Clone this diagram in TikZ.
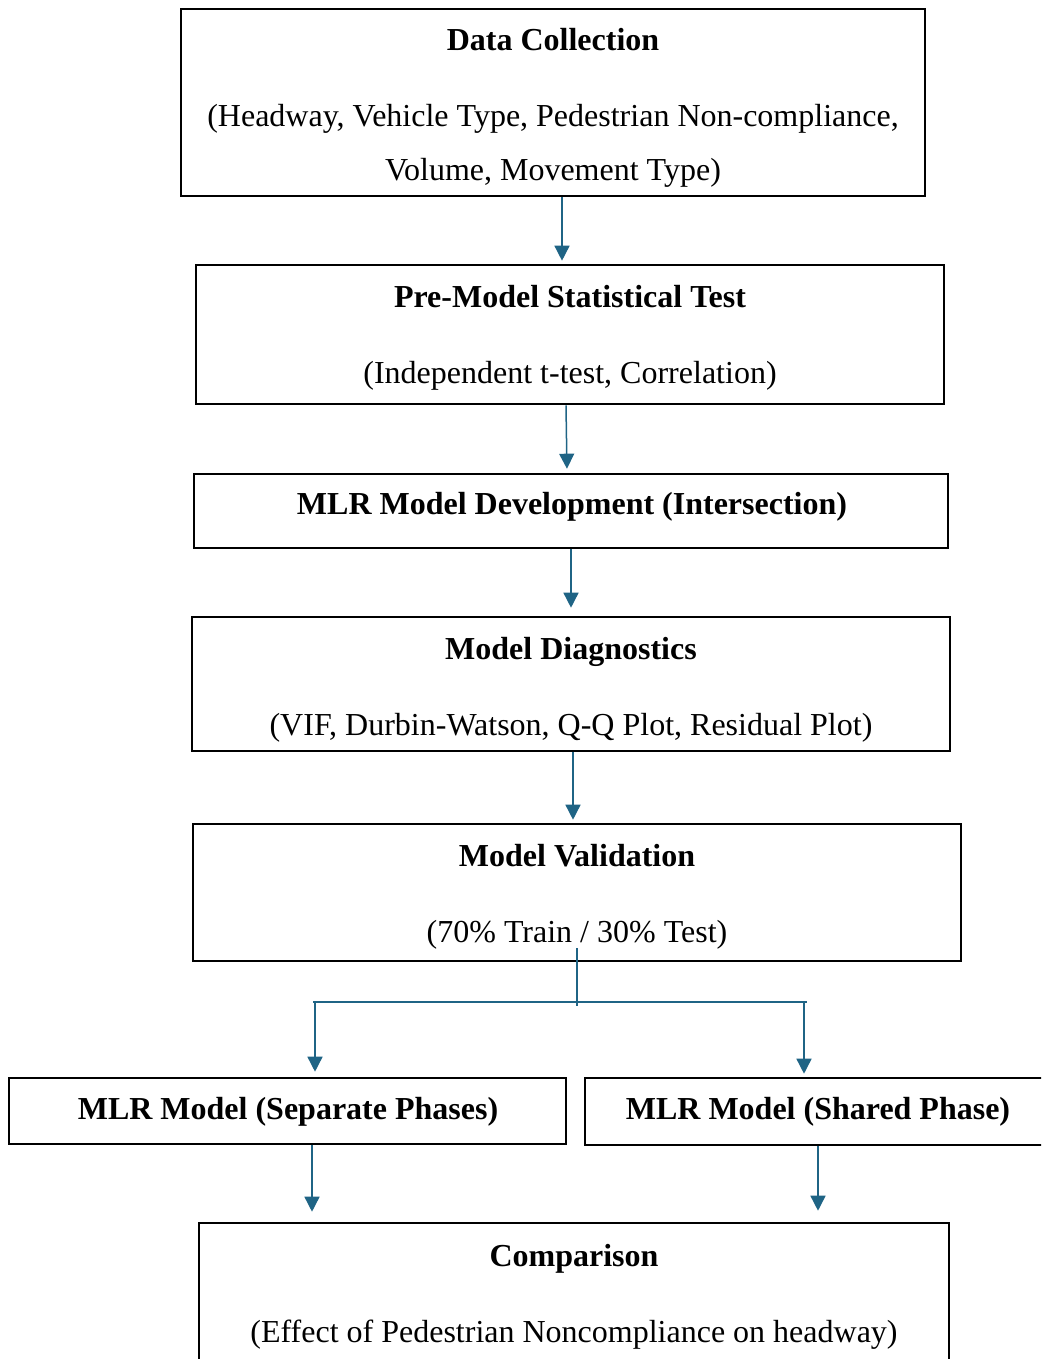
\documentclass[tikz,border=0pt]{standalone}
\usepackage{fontspec}
\setmainfont{Liberation Serif}
\usetikzlibrary{arrows.meta}
\definecolor{conncol}{HTML}{1F6485}
\tikzset{
  box/.style={draw=black, line width=2.6pt, inner sep=0pt, fill=none},
  ttl/.style={anchor=base, inner sep=0pt, font=\fontsize{32}{38}\selectfont\bfseries},
  sub/.style={anchor=base, inner sep=0pt, font=\fontsize{32}{38}\selectfont},
  conn/.style={draw=conncol, line width=1.5pt, -{Triangle[width=15pt,length=15pt]}},
  connline/.style={draw=conncol, line width=1.2pt}
}
\newcommand{\mkbox}[5]{% name x1 y1 x2 y2
  \node[box, minimum width={#4-#2}, minimum height={#5-#3}] (#1) at ({(#2+#4)/2},{(#3+#5)/2}) {};}
\begin{document}
\begin{tikzpicture}[x=1pt,y=-1pt]
\useasboundingbox (0,0) rectangle (1041,1359);
\clip (0,0) rectangle (1041,1359);
% boxes
\mkbox{b1}{181}{9}{925}{196}
\mkbox{b2}{196}{265}{944}{404}
\mkbox{b3}{194}{474}{948}{548}
\mkbox{b4}{192}{617}{950}{751}
\mkbox{b5}{193}{824}{961}{961}
\mkbox{b6}{9}{1078}{566}{1144}
\mkbox{b7}{585}{1078}{1052}{1145}
\mkbox{b8}{199}{1223}{949}{1390}
% texts
\node[ttl] (t1) at (553,51) {Data Collection};
\node[sub] (s1a) at (553,127) {(Headway, Vehicle Type, Pedestrian Non-compliance,};
\node[sub] (s1b) at (553,181) {Volume, Movement Type)};
\node[ttl] (t2) at (570,307) {Pre-Model Statistical Test};
\node[sub] (s2) at (570,383) {(Independent t-test, Correlation)};
\node[ttl] (t3) at (572,514) {MLR Model Development (Intersection)};
\node[ttl] (t4) at (571,659) {Model Diagnostics};
\node[sub] (s4) at (571,735) {(VIF, Durbin-Watson, Q-Q Plot, Residual Plot)};
\node[ttl] (t5) at (577,866) {Model Validation};
\node[sub] (s5) at (577,942) {(70\% Train / 30\% Test)};
\node[ttl] (t6) at (288,1119) {MLR Model (Separate Phases)};
\node[ttl] (t7) at (818,1119) {MLR Model (Shared Phase)};
\node[ttl] (t8) at (574,1266) {Comparison};
\node[sub] (s8) at (574,1342) {(Effect of Pedestrian Noncompliance on headway)};
% connectors
\draw[conn, shorten >=3pt] (562,0 |- b1.south) -- (562,0 |- b2.north);
\draw[conn, shorten >=4pt] (566,0 |- b2.south) -- (567,0 |- b3.north);
\draw[conn, shorten >=8pt] (571,0 |- b3.south) -- (571,0 |- b4.north);
\draw[conn, shorten >=3pt] (573,0 |- b4.south) -- (573,0 |- b5.north);
\coordinate (stemtop) at (577,948);
\coordinate (stembot) at (577,1006);
\coordinate (hl) at (313,1002);
\coordinate (hr) at (807,1002);
\draw[connline] (stemtop) -- (stembot);
\draw[connline] (hl) -- (hr);
\draw[conn, shorten >=5pt] (315,1002) -- (315,0 |- b6.north);
\draw[conn, shorten >=3pt] (804,1002) -- (804,0 |- b7.north);
\draw[conn, shorten >=10pt] (312,0 |- b6.south) -- (312,0 |- b8.north);
\draw[conn, shorten >=11pt] (818,0 |- b7.south) -- (818,0 |- b8.north);
\end{tikzpicture}
\end{document}
